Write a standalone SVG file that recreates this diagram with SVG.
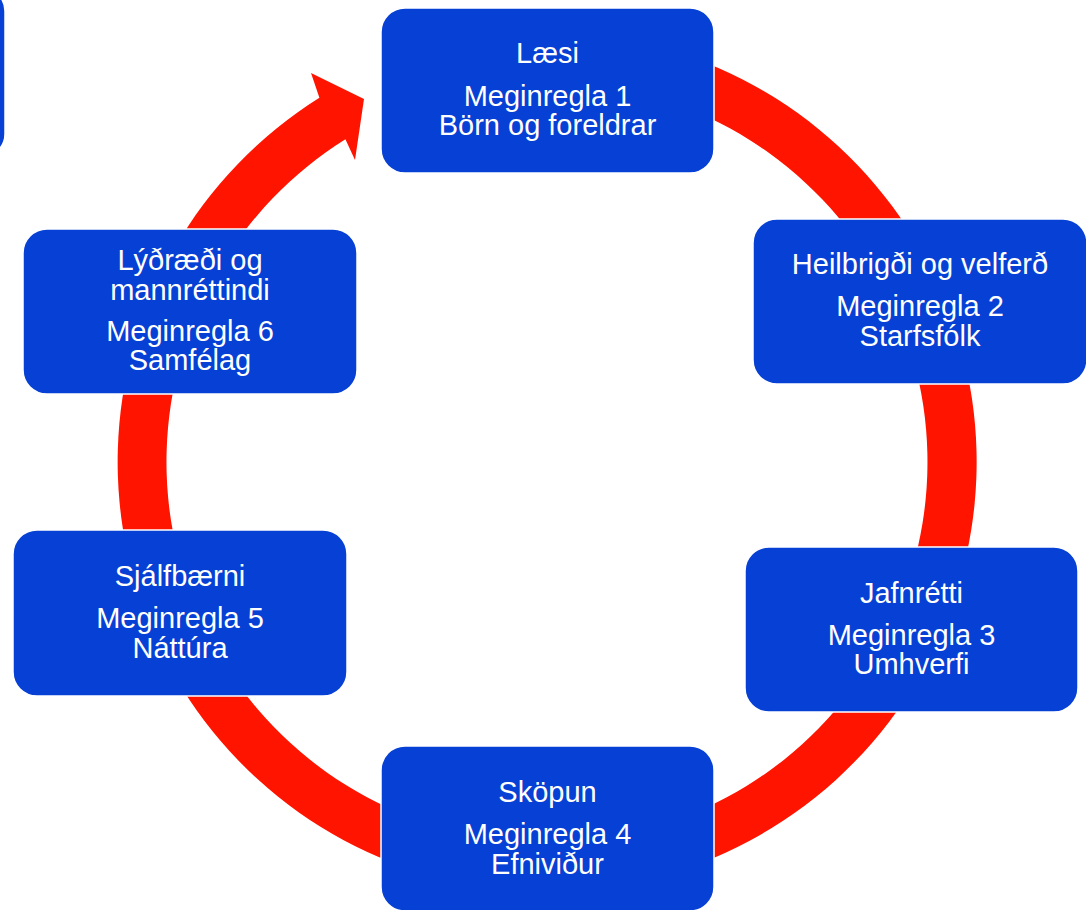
<svg xmlns="http://www.w3.org/2000/svg" width="1086" height="910" viewBox="0 0 1086 910">
<style>
.box{fill:#0740D5;stroke:#ffffff;stroke-width:1.5}
.t{font-family:"Liberation Sans",Arial,sans-serif;font-size:29px;fill:#ffffff;text-anchor:middle}
.ring{fill:#FF1400}
</style>
<rect x="0" y="0" width="1086" height="910" fill="#ffffff"/>
<g id="edge-partial">
<rect class="box" x="-330" y="-12" width="335" height="169" rx="23"/>
</g>
<g id="connectors">
<path class="ring" d="M472.4,39 A429.5,429.5 0 1 1 319.4,97.8 L311,73 L364,99 L355,160 L345.4,139.3 A380.5,380.5 0 1 0 480.9,87.3 Z"/>
</g>
<g id="node1">
<rect class="box" x="381" y="8" width="333" height="165" rx="24"/>
<text class="t" x="547.5" y="63">Læsi</text>
<text class="t" x="547.5" y="106">Meginregla 1</text>
<text class="t" x="547.5" y="135">Börn og foreldrar</text>
</g>
<g id="node2">
<rect class="box" x="753" y="219" width="334" height="165" rx="24"/>
<text class="t" x="920" y="274">Heilbrigði og velferð</text>
<text class="t" x="920" y="316">Meginregla 2</text>
<text class="t" x="920" y="346">Starfsfólk</text>
</g>
<g id="node3">
<rect class="box" x="745" y="547" width="333" height="165" rx="24"/>
<text class="t" x="911.5" y="603">Jafnrétti</text>
<text class="t" x="911.5" y="645">Meginregla 3</text>
<text class="t" x="911.5" y="674">Umhverfi</text>
</g>
<g id="node4">
<rect class="box" x="381" y="746" width="333" height="165" rx="24"/>
<text class="t" x="547.5" y="802">Sköpun</text>
<text class="t" x="547.5" y="844">Meginregla 4</text>
<text class="t" x="547.5" y="874">Efniviður</text>
</g>
<g id="node5">
<rect class="box" x="13" y="530" width="334" height="166" rx="24"/>
<text class="t" x="180" y="586">Sjálfbærni</text>
<text class="t" x="180" y="628">Meginregla 5</text>
<text class="t" x="180" y="658">Náttúra</text>
</g>
<g id="node6">
<rect class="box" x="23" y="229" width="334" height="165" rx="24"/>
<text class="t" x="190" y="270">Lýðræði og</text>
<text class="t" x="190" y="300">mannréttindi</text>
<text class="t" x="190" y="341">Meginregla 6</text>
<text class="t" x="190" y="370">Samfélag</text>
</g>
</svg>
